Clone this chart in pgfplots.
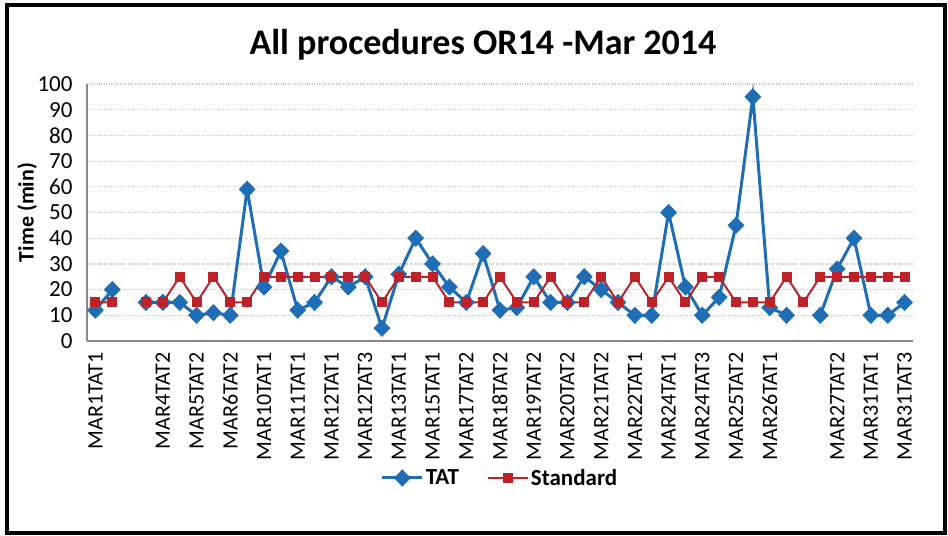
\documentclass[border=0pt]{standalone}
\usepackage{pgfplots}
\pgfplotsset{compat=1.18}
\usepackage{pgfplotstable}
\usepackage{fontspec}
\setmainfont{Carlito}
\definecolor{tatblue}{RGB}{31,110,181}
\definecolor{stdred}{RGB}{188,34,39}
\definecolor{axgray}{RGB}{137,137,137}
\pgfplotstableread{
idx TAT Std
0 12 15
1 20 15
2 nan nan
3 15 15
4 15 15
5 15 25
6 10 15
7 11 25
8 10 15
9 59 15
10 21 25
11 35 25
12 12 25
13 15 25
14 25 25
15 21 25
16 25 25
17 5 15
18 26 25
19 40 25
20 30 25
21 21 15
22 15 15
23 34 15
24 12 25
25 13 15
26 25 15
27 15 25
28 15 15
29 25 15
30 20 25
31 15 15
32 10 25
33 10 15
34 50 25
35 21 15
36 10 25
37 17 25
38 45 15
39 95 15
40 13 15
41 10 25
42 nan 15
43 10 25
44 28 25
45 40 25
46 10 25
47 10 25
48 15 25
}\datatable
\begin{document}
\begin{tikzpicture}
\useasboundingbox (0,0) rectangle (948bp,-536bp);
\draw[line width=4bp, black] (6.5bp,-5bp) rectangle (944.5bp,-533bp);
\node at (483bp,-45bp) {\fontsize{36bp}{42bp}\selectfont\bfseries All procedures OR14 -Mar 2014};
\begin{axis}[
  at={(87bp,-341bp)}, anchor=south west,
  scale only axis, width=826bp, height=257bp,
  xmin=-0.5, xmax=48.5, ymin=0, ymax=100,
  ytick={0,10,...,100},
  xtick={0,2,...,48},
  xticklabels={MAR1TAT1,,MAR4TAT2,MAR5TAT2,MAR6TAT2,MAR10TAT1,MAR11TAT1,MAR12TAT1,MAR12TAT3,MAR13TAT1,MAR15TAT1,MAR17TAT2,MAR18TAT2,MAR19TAT2,MAR20TAT2,MAR21TAT2,MAR22TAT1,MAR24TAT1,MAR24TAT3,MAR25TAT2,MAR26TAT1,,MAR27TAT2,MAR31TAT1,MAR31TAT3},
  axis x line*=bottom, axis y line*=left,
  axis line style={axgray, line width=1.5bp, -},
  major tick length=0pt,
  ymajorgrids,
  major grid style={gray!45, dotted, line width=1.2bp},
  /pgf/number format/assume math mode=true,
  yticklabel style={xshift=-11bp, font=\fontsize{23bp}{27bp}\selectfont},
  xticklabel style={rotate=90, anchor=east, font=\fontsize{22bp}{26bp}\selectfont},
  xticklabel shift=8bp,
  ylabel={\textbf{Time (min)}},
  every axis y label/.style={at={(axis description cs:-0.0726,0.5)}, rotate=90, anchor=center, font=\fontsize{22bp}{26bp}\selectfont},
  unbounded coords=jump,
  legend style={at={(0.5,-0.533)}, anchor=center, draw=none, fill=none,
    font=\fontsize{23bp}{27bp}\selectfont\bfseries,
    /tikz/every even column/.append style={column sep=26bp}},
  legend columns=2,
  legend image code/.code={\draw[mark repeat=2, mark phase=2] plot coordinates {(0bp,0bp) (20bp,0bp) (40bp,0bp)};},
]
\addplot[tatblue, line width=3bp, mark=diamond*, mark size=6.5bp, mark options={xscale=1.3, solid, fill=tatblue}] table[x=idx, y=TAT] {\datatable};
\addlegendentry{TAT}
\addplot[stdred, line width=2bp, mark=square*, mark size=4bp, mark options={solid, fill=stdred}] table[x=idx, y=Std] {\datatable};
\addlegendentry{Standard}
\end{axis}
\end{tikzpicture}
\end{document}
